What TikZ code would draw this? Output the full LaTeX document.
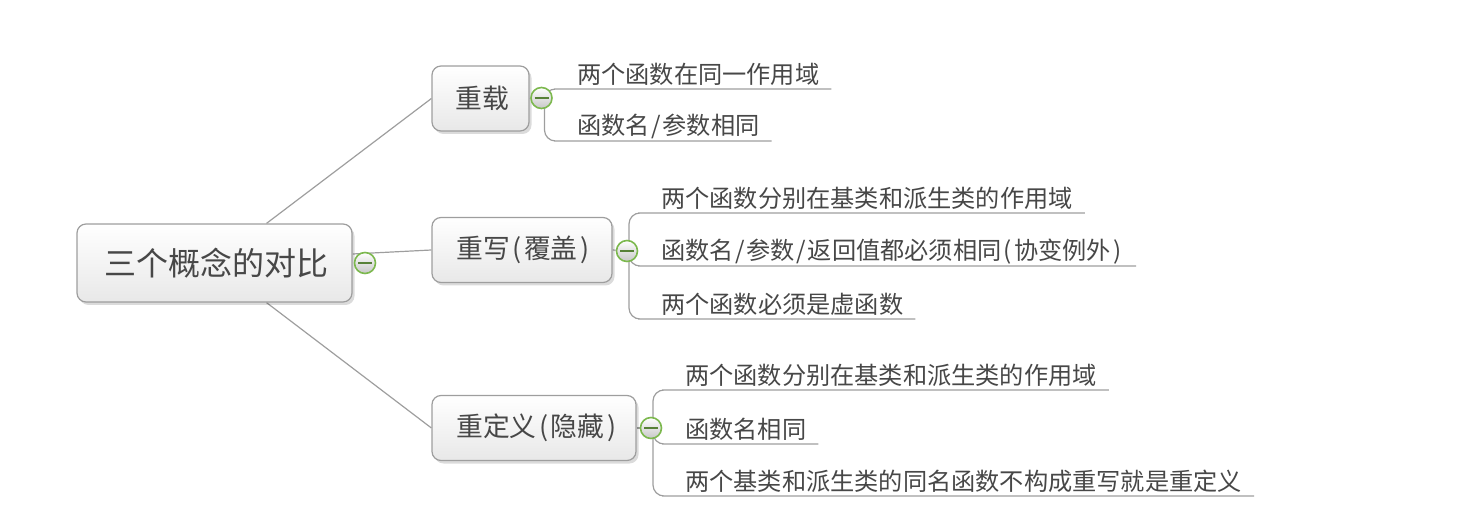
\documentclass[tikz,border=0pt]{standalone}
\usepackage{fontspec}
\setmainfont{Noto Sans CJK SC}
\usetikzlibrary{positioning,shadows,backgrounds}
\definecolor{togglegreen}{RGB}{124,184,78}
\providecommand{\hc}[1]{\makebox[.53em]{#1}}
\tikzset{
  mbox/.style    ={draw=black!38, rounded corners=9pt, line width=1.2pt, align=center,
                   top color=white, bottom color=black!9, inner sep=0pt, text=black!72,
                   drop shadow={shadow xshift=2.5pt, shadow yshift=-3pt, opacity=.14, fill=black}},
  mroot/.style   ={mbox, minimum width=275pt, minimum height=78pt, font=\fontsize{32}{36}\selectfont},
  mbranch/.style ={mbox, minimum height=65pt, font=\fontsize{26.8}{30}\selectfont},
  mleaf/.style   ={inner xsep=12pt, inner ysep=0pt, minimum height=29pt, anchor=south west,
                   text=black!72, font=\fontsize{24.2}{28}\selectfont},
  mline/.style   ={line width=1.2pt, draw=black!38},
  mlink/.style   ={mline, rounded corners=11pt},
  mtoggle/.style ={circle, draw=togglegreen, line width=1.6pt, minimum size=21pt, inner sep=0pt,
                   top color=white, bottom color=black!22,
                   path picture={\draw[line width=1.3pt, togglegreen!70!black]
                     ([xshift=-7pt]path picture bounding box.center) -- ([xshift=7pt]path picture bounding box.center);}},
}
\begin{document}
\begin{tikzpicture}[x=1pt, y=-1pt]
  \useasboundingbox (0,0) rectangle (1470,518);

  % ---- root ----
  \node[mroot] (root) at (214.5,263) {\hspace{3pt}三个概念的对比};
  \node[mtoggle] (togRoot) at (365,263) {};

  % ---- branches ----
  \node[mbranch, minimum width=97pt] (reload) at (480.5,98.5) {\hspace{3pt}重载};
  \node[mtoggle] (togReload) at (541.5,98) {};
  \node[mbranch, minimum width=180pt] (rewrite) at (522,250) {\hspace{4pt}重写\hc{(}覆盖\hc{)}};
  \node[mtoggle] (togRewrite) at (627,251) {};
  \node[mbranch, minimum width=204pt] (redefine) at (534,428) {\hspace{7pt}重定义\hc{(}隐藏\hc{)}};
  \node[mtoggle] (togRedefine) at (651,428) {};

  % ---- leaves ----
  \node[mleaf] (reloadA) at (565,89) {两个函数在同一作用域};
  \node[mleaf] (reloadB) at (565,141) {函数名\hc{/}参数相同};

  \node[mleaf] (rewriteA) at (649,213) {两个函数分别在基类和派生类的作用域};
  \node[mleaf] (rewriteB) at (649,266) {函数名\hc{/}参数\hc{/}返回值都必须相同\hc{(}协变例外\hc{)}};
  \node[mleaf] (rewriteC) at (649,319) {两个函数必须是虚函数};

  \node[mleaf] (redefineA) at (673,390) {两个函数分别在基类和派生类的作用域};
  \node[mleaf] (redefineB) at (673,444) {函数名相同};
  \node[mleaf] (redefineC) at (673,496) {两个基类和派生类的同名函数不构成重写就是重定义};

  % ---- connectors ----
  \begin{scope}[on background layer]
    \draw[mline] ([xshift=52pt]root.north) -- (reload.west);
    \draw[mline] ([yshift=9pt]root.east) -- (rewrite.west);
    \draw[mline] ([xshift=52pt]root.south) -- (redefine.west);

    \draw[mline] (reload.east) -- (togReload);
    \draw[mline] (rewrite.east) -- (togRewrite);
    \draw[mline] (redefine.east) -- (togRedefine);

    \draw[mlink] ([xshift=3pt]togReload.center) |- (reloadA.south west) -- (reloadA.south east);
    \draw[mlink] ([xshift=3pt]togReload.center) |- (reloadB.south west) -- (reloadB.south east);

    \draw[mlink] ([xshift=2pt]togRewrite.center) |- (rewriteA.south west) -- (rewriteA.south east);
    \draw[mlink] ([xshift=2pt]togRewrite.center) |- (rewriteB.south west) -- (rewriteB.south east);
    \draw[mlink] ([xshift=2pt]togRewrite.center) |- (rewriteC.south west) -- (rewriteC.south east);

    \draw[mlink] ([xshift=2pt]togRedefine.center) |- (redefineA.south west) -- (redefineA.south east);
    \draw[mlink] ([xshift=2pt]togRedefine.center) |- (redefineB.south west) -- (redefineB.south east);
    \draw[mlink] ([xshift=2pt]togRedefine.center) |- (redefineC.south west) -- (redefineC.south east);
  \end{scope}

\end{tikzpicture}
\end{document}
